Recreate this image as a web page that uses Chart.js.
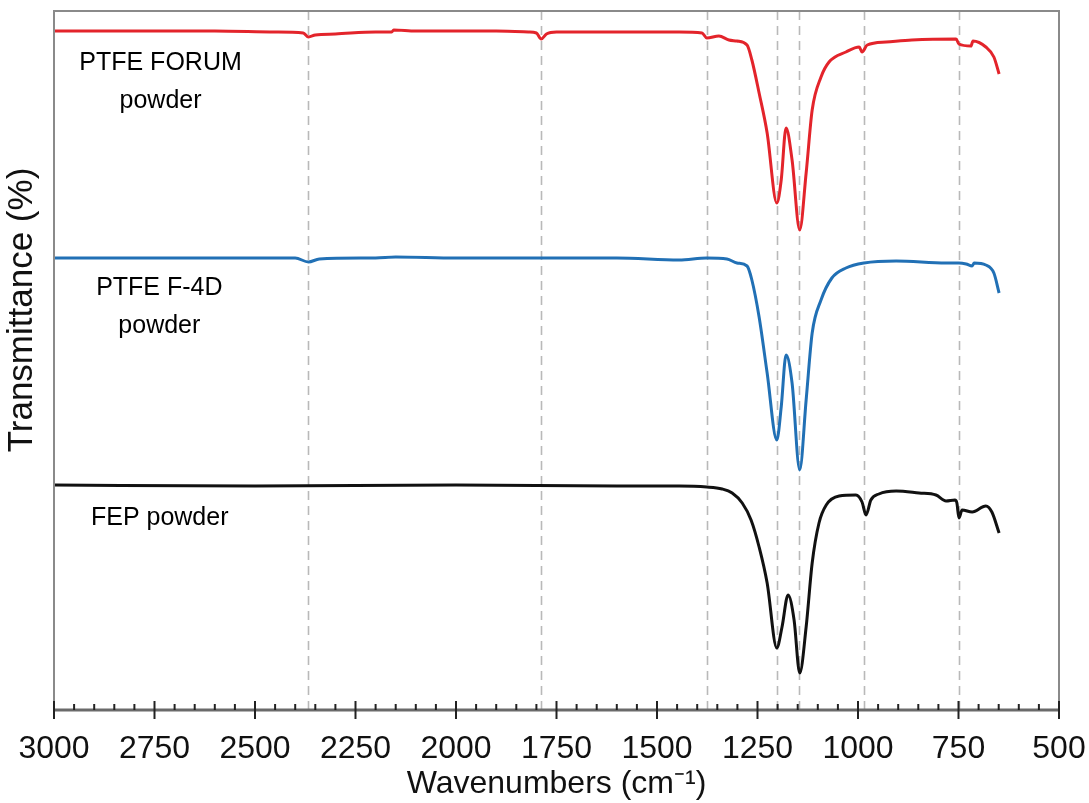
<!DOCTYPE html>
<html>
<head>
<meta charset="utf-8">
<script src="https://cdn.jsdelivr.net/npm/chart.js@4.4.1/dist/chart.umd.min.js"></script>
<style>
  body { margin: 0; background: #fff; }
</style>
</head>
<body>
<canvas id="ftir" width="1089" height="803"></canvas>
<script>
// wavenumbers (cm-1) and offset transmittance
const forumWn = [3000, 2800, 2600, 2450, 2380, 2367, 2350, 2300, 2200, 2160, 2155, 2100, 2000, 1900, 1820, 1800, 1788, 1775, 1750, 1600, 1500, 1445, 1388, 1376, 1346, 1321, 1301, 1276, 1264, 1246, 1226, 1202, 1191, 1179, 1164, 1145, 1129, 1114, 1092, 1072, 1030, 997, 990, 977, 930, 866, 756, 749, 719, 714, 682, 662, 649];
const forumT = [679, 679, 679, 678, 677, 673, 675, 676, 678, 678, 680, 679, 679, 679, 678, 677, 671, 676, 678, 678, 678, 678, 677, 672, 674, 670, 669, 665, 650, 617, 577, 507, 530, 582, 550, 480, 537, 600, 633, 648, 658, 663, 658, 665, 668, 670, 671, 666, 664, 669, 663, 653, 636];

const f4dWn = [3000, 2600, 2400, 2367, 2340, 2200, 2150, 2000, 1800, 1600, 1445, 1376, 1326, 1301, 1276, 1264, 1246, 1226, 1202, 1191, 1179, 1164, 1145, 1129, 1114, 1092, 1065, 1030, 985, 905, 781, 749, 731, 716, 711, 682, 662, 649];
const f4dT = [452, 452, 452, 448, 451, 452, 453, 452, 452, 452, 450, 452, 451, 447, 444, 430, 393, 337, 270, 303, 355, 327, 240, 310, 377, 410, 432, 442, 447, 449, 447, 447, 446, 444, 447, 445, 437, 417];

const fepWn = [3000, 2500, 2000, 1600, 1445, 1376, 1338, 1313, 1288, 1266, 1246, 1226, 1202, 1189, 1174, 1159, 1145, 1129, 1114, 1097, 1079, 1047, 1005, 990, 980, 968, 948, 905, 848, 806, 781, 759, 754, 749, 741, 716, 682, 667, 649];
const fepT = [225, 224, 225, 224, 224, 223, 221, 217, 207, 190, 163, 127, 62, 83, 115, 90, 37, 83, 147, 187, 205, 214, 215, 208, 195, 210, 216, 219, 217, 215, 209, 210, 207, 192, 200, 198, 204, 198, 177];

// dashed marker lines
const peakLines = [2367, 1788, 1376, 1202, 1146, 985, 749];

const FONT = "'Liberation Sans Narrow', 'Liberation Sans', Arial, sans-serif";

function toPoints(wn, t) {
  return wn.map((w, i) => ({ x: w, y: t[i] }));
}

// sample names, placed in data coordinates
const sampleLabels = [
  { lines: ['PTFE FORUM', 'powder'], wn: 2735, t: [640, 602] },
  { lines: ['PTFE F-4D', 'powder'], wn: 2738, t: [415, 377] },
  { lines: ['FEP powder'], wn: 2737, t: [185] }
];

const decor = {
  id: 'decor',
  beforeDatasetsDraw(chart) {
    const { ctx, chartArea: a, scales: { x } } = chart;
    ctx.save();
    ctx.strokeStyle = '#b9b9b9';
    ctx.lineWidth = 1.6;
    ctx.setLineDash([9, 6]);
    peakLines.forEach(w => {
      const px = Math.round(x.getPixelForValue(w)) + 0.5;
      ctx.beginPath();
      ctx.moveTo(px, a.top);
      ctx.lineTo(px, a.bottom);
      ctx.stroke();
    });
    ctx.restore();
  },
  afterDraw(chart) {
    const { ctx, chartArea: a, scales: { x, y } } = chart;
    ctx.save();
    // frame
    ctx.strokeStyle = '#8a8a8a';
    ctx.lineWidth = 2;
    ctx.strokeRect(a.left, a.top, a.right - a.left, a.bottom - a.top);
    ctx.strokeStyle = '#6a6a6a';
    ctx.lineWidth = 3;
    ctx.beginPath();
    ctx.moveTo(a.left, a.bottom);
    ctx.lineTo(a.right, a.bottom);
    ctx.stroke();
    // major / minor ticks
    ctx.strokeStyle = '#222';
    ctx.lineWidth = 2;
    for (let w = 500; w <= 3000; w += 50) {
      const px = x.getPixelForValue(w);
      ctx.beginPath();
      if (w % 250 === 0) {
        ctx.moveTo(px, a.bottom - 9);
        ctx.lineTo(px, a.bottom + 9);
      } else {
        ctx.moveTo(px, a.bottom - 6);
        ctx.lineTo(px, a.bottom);
      }
      ctx.stroke();
    }
    // sample names
    ctx.fillStyle = '#000';
    ctx.font = "25px 'Liberation Sans', Arial, sans-serif";
    ctx.textAlign = 'center';
    ctx.textBaseline = 'alphabetic';
    sampleLabels.forEach(l => {
      l.lines.forEach((txt, i) => {
        ctx.fillText(txt, x.getPixelForValue(l.wn), y.getPixelForValue(l.t[i]));
      });
    });
    // y title
    ctx.font = '35px ' + FONT;
    ctx.fillStyle = '#111';
    ctx.translate(22, 310);
    ctx.rotate(-Math.PI / 2);
    ctx.textBaseline = 'middle';
    ctx.fillText('Transmittance (%)', 0, 0);
    ctx.restore();
  }
};

const lineSet = (label, wn, t, color) => ({
  label: label,
  data: toPoints(wn, t),
  borderColor: color,
  borderWidth: 3,
  pointRadius: 0,
  fill: false,
  cubicInterpolationMode: 'monotone'
});

new Chart(document.getElementById('ftir'), {
  type: 'line',
  data: {
    datasets: [
      lineSet('PTFE FORUM powder', forumWn, forumT, '#e3242b'),
      lineSet('PTFE F-4D powder', f4dWn, f4dT, '#2170b5'),
      lineSet('FEP powder', fepWn, fepT, '#111111')
    ]
  },
  options: {
    responsive: false,
    animation: false,
    layout: { padding: { top: 11, right: 30, left: 0, bottom: 0 } },
    plugins: { legend: { display: false }, tooltip: { enabled: false } },
    scales: {
      x: {
        type: 'linear',
        reverse: true,
        min: 500,
        max: 3000,
        grid: { display: false, drawTicks: false },
        border: { display: false },
        ticks: {
          stepSize: 250,
          padding: 20,
          color: '#111',
          font: { family: FONT, size: 32 },
          maxRotation: 0,
          callback: v => String(v)
        },
        title: {
          display: true,
          text: 'Wavenumbers (cm\u207B\u00B9)',
          color: '#111',
          font: { family: FONT, size: 32 },
          padding: { top: 0, bottom: 0 }
        },
        afterFit: s => {
          s.height = 93;
          s.paddingLeft = 0;
          s.paddingRight = 0;
        }
      },
      y: {
        min: 0,
        max: 699,
        grid: { display: false },
        border: { display: false },
        ticks: { display: false },
        afterFit: s => { s.width = 54; }
      }
    }
  },
  plugins: [decor]
});
</script>
</body>
</html>
